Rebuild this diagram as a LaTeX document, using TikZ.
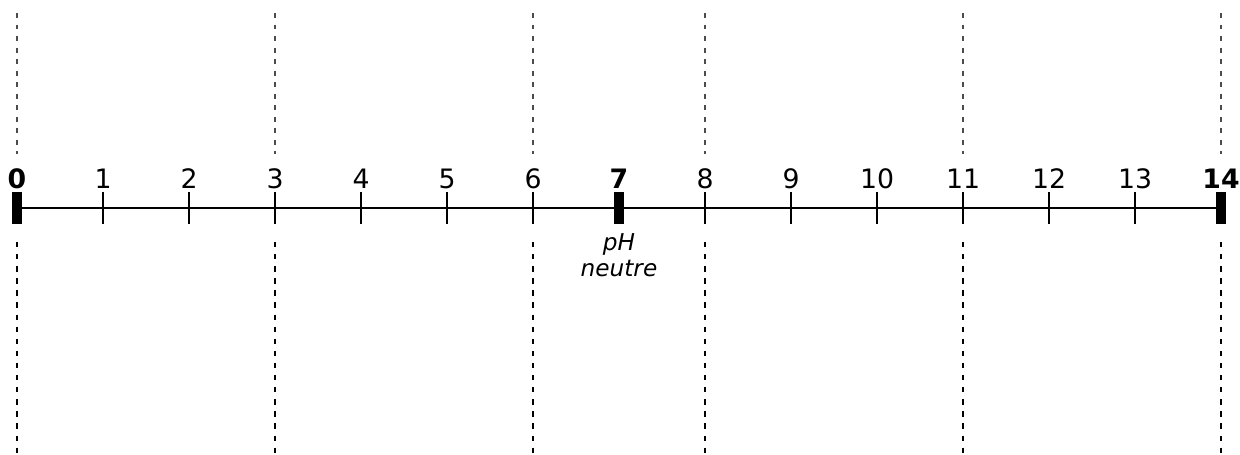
\documentclass[tikz,border=0pt]{standalone}
\usepackage{fontspec}
\setmainfont{DejaVu Sans}
\usepackage{tikz}
\usetikzlibrary{positioning}

\begin{document}
\begin{tikzpicture}[
  x=0.025cm, y=-0.025cm,
  font=\fontsize{19}{22}\selectfont,
  axisline/.style={line width=1.9pt, black},
  smalltick/.style={line width=1.8pt, black},
  bigtick/.style={fill=black, draw=none},
  num/.style={inner sep=0pt, anchor=base},
  upguide/.style={line width=1.5pt, black!70, dash pattern=on 3.5pt off 4.7pt},
  lowguide/.style={line width=2pt, black, dash pattern=on 3.8pt off 4.8pt}
]
\useasboundingbox (0,0) rectangle (1240,454);
% ticks along the pH axis
\foreach \i in {0,...,14} {
  \coordinate (t\i) at (17+86*\i,208);
}
\draw[axisline] (t0) -- (t14);
\foreach \i in {1,2,3,4,5,6,8,9,10,11,12,13} {
  \draw[smalltick] ([yshift=0.4cm]t\i) -- ([yshift=-0.4cm]t\i);
  \node[num] (l\i) at ([yshift=0.48cm]t\i) {\i};
}
\foreach \i in {0,7,14} {
  \fill[bigtick] ([xshift=-0.13cm, yshift=0.4cm]t\i) rectangle ([xshift=0.13cm, yshift=-0.4cm]t\i);
  \node[num] (l\i) at ([yshift=0.48cm]t\i) {\textbf{\i}};
}
\node[align=center, inner sep=0pt, below=0.62cm of t7, font=\fontsize{16.5}{19}\selectfont\itshape] (neutral) {pH\\neutre};
% guide lines
\foreach \i in {0,3,6,8,11,14} {
  \coordinate (u\i) at (17+86*\i,13);
  \coordinate (v\i) at (17+86*\i,154);
  \coordinate (w\i) at (17+86*\i,242);
  \coordinate (z\i) at (17+86*\i,454);
  \draw[upguide] (u\i) -- (v\i);
  \draw[lowguide] (w\i) -- (z\i);
}
\end{tikzpicture}
\end{document}
